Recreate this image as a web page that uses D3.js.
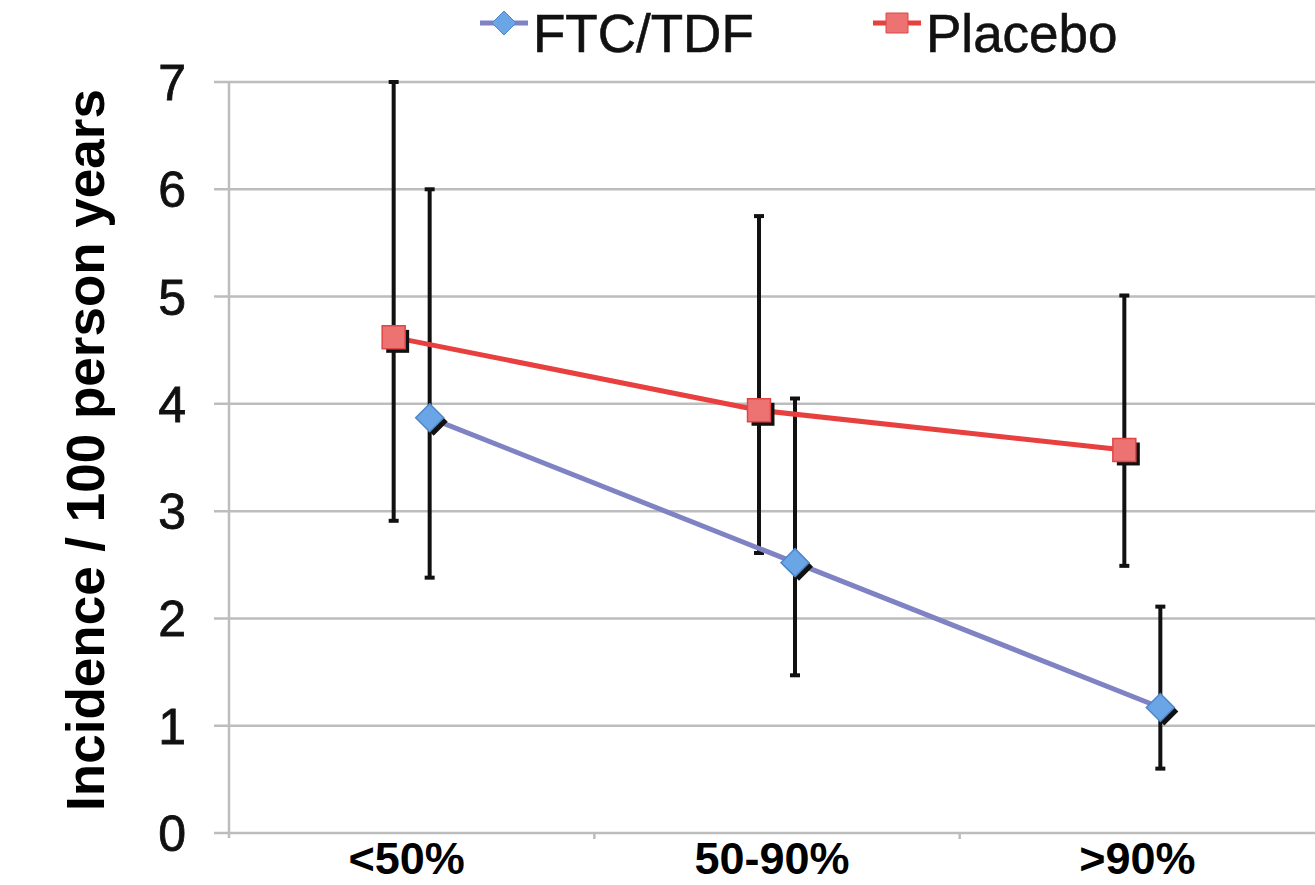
<!DOCTYPE html>
<html>
<head>
<meta charset="utf-8">
<script src="https://cdn.jsdelivr.net/npm/d3@7"></script>
<style>
  html, body { margin: 0; padding: 0; background: #fff; }
  svg { display: block; font-family: "Liberation Sans", Arial, Helvetica, sans-serif; }
</style>
</head>
<body>
<div id="chart"></div>
<script>
// adherence groups on x axis
const categories = ['<50%', '50-90%', '>90%']
const yTicks = [0, 1, 2, 3, 4, 5, 6, 7]

// incidence per 100 person years, with error bar ends
const ftcValues = [3.87, 2.52, 1.17]
const ftcLow = [2.38, 1.47, 0.60]
const ftcHigh = [6.0, 4.05, 2.11]

const placeboValues = [4.62, 3.94, 3.57]
const placeboLow = [2.91, 2.61, 2.49]
const placeboHigh = [7.0, 5.75, 5.01]

const width = 1315
const height = 885

const svg = d3.select('#chart').append('svg')
  .attr('width', width)
  .attr('height', height)

const x = d3.scaleBand()
  .domain(categories)
  .range([229, 1325])

const y = d3.scaleLinear()
  .domain([0, 7])
  .range([833, 82])

const gridColor = '#bdbdbd'

// horizontal gridlines + left ticks
svg.append('g').selectAll('line').data(yTicks).enter()
  .append('line')
  .attr('x1', 214).attr('x2', width)
  .attr('y1', d => y(d)).attr('y2', d => y(d))
  .attr('stroke', gridColor).attr('stroke-width', 2.5)

// y axis line
svg.append('line')
  .attr('x1', 229).attr('x2', 229)
  .attr('y1', y(7)).attr('y2', y(0) + 5)
  .attr('stroke', gridColor).attr('stroke-width', 2.5)

// category boundary ticks
svg.append('g').selectAll('line').data(categories.slice(1)).enter()
  .append('line')
  .attr('x1', d => x(d)).attr('x2', d => x(d))
  .attr('y1', y(0)).attr('y2', y(0) + 6)
  .attr('stroke', gridColor).attr('stroke-width', 2.5)

// y tick labels
svg.append('g').selectAll('text').data(yTicks).enter()
  .append('text')
  .attr('x', 186)
  .attr('y', d => y(d) + 18)
  .attr('text-anchor', 'end')
  .attr('font-size', 50)
  .attr('fill', '#111')
  .attr('stroke', '#111').attr('stroke-width', 0.8)
  .text(d => d)

// x labels
svg.append('g').selectAll('text').data(categories).enter()
  .append('text')
  .attr('x', d => x(d) + x.bandwidth() / 2 - 5)
  .attr('y', 874)
  .attr('text-anchor', 'middle')
  .attr('font-size', 45)
  .attr('font-weight', 'bold')
  .attr('fill', '#000')
  .text(d => d)

// y axis title
svg.append('text')
  .attr('transform', 'translate(104,450) rotate(-90)')
  .attr('text-anchor', 'middle')
  .attr('font-size', 53)
  .attr('font-weight', 'bold')
  .attr('fill', '#000')
  .text('Incidence / 100 person years')

const series = [
  { name: 'FTC/TDF', values: ftcValues, low: ftcLow, high: ftcHigh, offset: 18,
    line: '#7f83c4', fill: '#6aa6e6', stroke: '#4f86c8', shape: 'diamond' },
  { name: 'Placebo', values: placeboValues, low: placeboLow, high: placeboHigh, offset: -18,
    line: '#e8403f', fill: '#ec7372', stroke: '#e04646', shape: 'square' }
]

const cx = (s, i) => x(categories[i]) + x.bandwidth() / 2 + s.offset

// error bars
series.forEach(s => {
  const g = svg.append('g')
  s.values.forEach((v, i) => {
    const px = cx(s, i)
    g.append('line')
      .attr('x1', px).attr('x2', px)
      .attr('y1', y(s.low[i])).attr('y2', y(s.high[i]))
      .attr('stroke', '#111').attr('stroke-width', 4)
    ;[s.low[i], s.high[i]].forEach(e => {
      g.append('line')
        .attr('x1', px - 5).attr('x2', px + 5)
        .attr('y1', y(e)).attr('y2', y(e))
        .attr('stroke', '#111').attr('stroke-width', 4)
    })
  })
})

function marker(g, shape, px, py, fill, stroke, size) {
  const path = shape === 'diamond'
    ? `M${px},${py - size}L${px + size},${py}L${px},${py + size}L${px - size},${py}Z`
    : `M${px - size * 0.82},${py - size * 0.82}h${size * 1.64}v${size * 1.64}h${-size * 1.64}Z`
  g.append('path').attr('d', path)
    .attr('transform', 'translate(4,4)')
    .attr('fill', '#111')
  g.append('path').attr('d', path)
    .attr('fill', fill).attr('stroke', stroke).attr('stroke-width', 1.5)
}

// lines and markers
series.forEach(s => {
  const line = d3.line()
    .x((d, i) => cx(s, i))
    .y(d => y(d))
  svg.append('path')
    .datum(s.values)
    .attr('d', line)
    .attr('fill', 'none')
    .attr('stroke', s.line)
    .attr('stroke-width', 5)
  const g = svg.append('g')
  s.values.forEach((v, i) => marker(g, s.shape, cx(s, i), y(v), s.fill, s.stroke, 14))
})

// legend
const legend = [
  { s: series[0], lx: 480, tx: 533 },
  { s: series[1], lx: 873, tx: 926 }
]
legend.forEach(l => {
  const g = svg.append('g')
  g.append('line')
    .attr('x1', l.lx).attr('x2', l.lx + 48)
    .attr('y1', 23).attr('y2', 23)
    .attr('stroke', l.s.line).attr('stroke-width', 5)
  const mx = l.lx + 24
  const path = l.s.shape === 'diamond'
    ? `M${mx},11L${mx + 12},23L${mx},35L${mx - 12},23Z`
    : `M${mx - 11},13h22v20h-22Z`
  g.append('path').attr('d', path)
    .attr('fill', l.s.fill).attr('stroke', l.s.stroke).attr('stroke-width', 1)
  g.append('text')
    .attr('x', l.tx).attr('y', 52)
    .attr('font-size', 53)
    .attr('fill', '#111')
    .attr('stroke', '#111').attr('stroke-width', 0.6)
    .text(l.s.name)
})
</script>
</body>
</html>
